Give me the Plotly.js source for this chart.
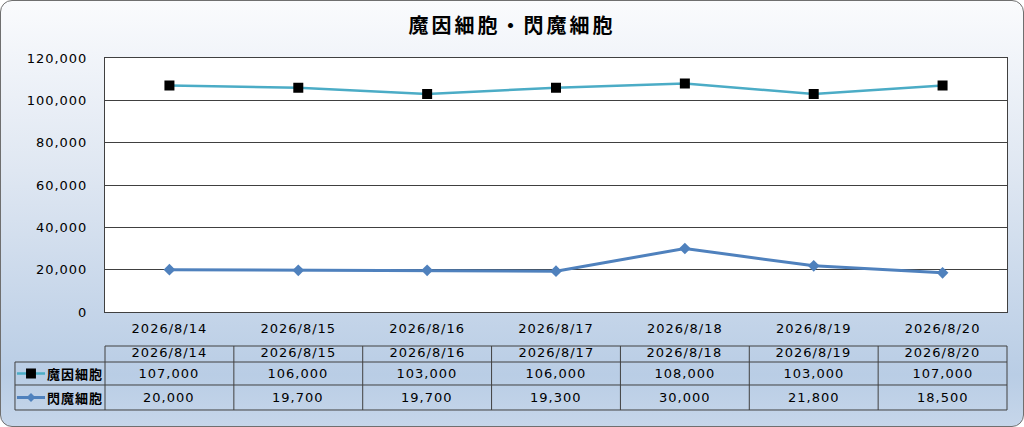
<!DOCTYPE html>
<html>
<head>
<meta charset="utf-8">
<script src="https://cdn.plot.ly/plotly-3.0.1.min.js"></script>
<style>
  html, body { margin: 0; padding: 0; }
  #frame {
    position: relative;
    width: 1024px; height: 427px;
    box-sizing: border-box;
    border: 1.5px solid #6f6f6f;
    border-radius: 12px;
    background: linear-gradient(to bottom, #fafbfd 0%, #dfe7f2 40%, #b9cde5 88%, #c6d6ea 100%);
    overflow: hidden;
  }
  #chart { position: absolute; left: -1.5px; top: -1.5px; width: 1024px; height: 427px; }
  #chart text { letter-spacing: 1px; }
  #chart .gtitle { letter-spacing: 3px; }
</style>
</head>
<body>
<div id="frame"><div id="chart"></div></div>
<script>
// chart data
var dates = ['2026/8/14', '2026/8/15', '2026/8/16', '2026/8/17', '2026/8/18', '2026/8/19', '2026/8/20'];
var seriesNames = ['魔因細胞', '閃魔細胞'];
var maInValues = [107000, 106000, 103000, 106000, 108000, 103000, 107000];
var senMaValues = [20000, 19700, 19700, 19300, 30000, 21800, 18500];
var yTicks = [0, 20000, 40000, 60000, 80000, 100000, 120000];

var font = '"DejaVu Sans", "Noto Sans CJK JP", sans-serif';
var cjkFont = '"Noto Sans CJK JP", sans-serif';
var fmt = function (v) { return v === 0 ? '0' : v.toLocaleString('en-US'); };

var traces = [
  { x: dates, y: maInValues, name: seriesNames[0], type: 'scatter', mode: 'lines+markers',
    line: { color: '#4bacc6', width: 2.5 },
    marker: { symbol: 'square', size: 10, color: '#000000' } },
  { x: dates, y: senMaValues, name: seriesNames[1], type: 'scatter', mode: 'lines+markers',
    line: { color: '#4f81bd', width: 3 },
    marker: { symbol: 'diamond', size: 9, color: '#4f81bd' } }
];

// data table under the plot (paper coords: 0..1 across the plot area)
var rowY = [-0.1339, -0.1969, -0.2874, -0.3858]; // header top, header bottom, row1 bottom, row2 bottom
var leftX = -0.0998;
var lineStyle = { color: '#404040', width: 1 };
var shapes = [];
var annotations = [];

// horizontal lines
shapes.push({ type: 'line', xref: 'paper', yref: 'paper', x0: 0, x1: 1, y0: rowY[0], y1: rowY[0], line: lineStyle });
for (var r = 1; r < rowY.length; r++) {
  shapes.push({ type: 'line', xref: 'paper', yref: 'paper', x0: leftX, x1: 1, y0: rowY[r], y1: rowY[r], line: lineStyle });
}
// vertical lines
shapes.push({ type: 'line', xref: 'paper', yref: 'paper', x0: leftX, x1: leftX, y0: rowY[1], y1: rowY[3], line: lineStyle });
for (var c = 0; c <= dates.length; c++) {
  var xc = c / dates.length;
  shapes.push({ type: 'line', xref: 'paper', yref: 'paper', x0: xc, x1: xc, y0: rowY[0], y1: rowY[3], line: lineStyle });
}

var cellFont = { family: font, size: 13, color: '#000' };
var headerMid = (rowY[0] + rowY[1]) / 2, row1Mid = (rowY[1] + rowY[2]) / 2, row2Mid = (rowY[2] + rowY[3]) / 2;
function cell(x, xref, y, text, f, xanchor) {
  annotations.push({ x: x, xref: xref, y: y, yref: 'paper', text: text, showarrow: false, font: f,
    xanchor: xanchor || 'center', yanchor: 'middle' });
}
dates.forEach(function (d, i) {
  cell(d, 'x', headerMid + 0.004, d, cellFont);
  cell(d, 'x', row1Mid, fmt(maInValues[i]), cellFont);
  cell(d, 'x', row2Mid, fmt(senMaValues[i]), cellFont);
});

// legend keys in the first column
var keyX0 = -0.0976, keyX1 = -0.0665, keyMid = (keyX0 + keyX1) / 2;
shapes.push({ type: 'line', xref: 'paper', yref: 'paper', x0: keyX0, x1: keyX1, y0: row1Mid, y1: row1Mid, line: { color: '#4bacc6', width: 2.5 } });
shapes.push({ type: 'rect', xref: 'paper', yref: 'paper', x0: keyMid - 0.0055, x1: keyMid + 0.0055, y0: row1Mid - 0.0197, y1: row1Mid + 0.0197,
  fillcolor: '#000', line: { width: 0 } });
shapes.push({ type: 'line', xref: 'paper', yref: 'paper', x0: keyX0, x1: keyX1, y0: row2Mid, y1: row2Mid, line: { color: '#4f81bd', width: 3 } });
shapes.push({ type: 'path', xref: 'paper', yref: 'paper',
  path: 'M' + (keyMid - 0.005) + ',' + row2Mid + ' L' + keyMid + ',' + (row2Mid + 0.018) + ' L' + (keyMid + 0.005) + ',' + row2Mid + ' L' + keyMid + ',' + (row2Mid - 0.018) + ' Z',
  fillcolor: '#4f81bd', line: { width: 0 } });
var labelFont = { family: cjkFont, size: 13, color: '#000', weight: 'bold' };
cell(-0.0643, 'paper', row1Mid, seriesNames[0], labelFont, 'left');
cell(-0.0643, 'paper', row2Mid, seriesNames[1], labelFont, 'left');

var layout = {
  width: 1024,
  height: 427,
  margin: { t: 58, b: 115, l: 105, r: 17 },
  paper_bgcolor: 'rgba(0,0,0,0)',
  plot_bgcolor: '#ffffff',
  showlegend: false,
  font: { family: font, size: 13, color: '#000' },
  title: { text: seriesNames.join('・'), x: 0.5, xref: 'container', xanchor: 'center', y: 0.94, yref: 'container', yanchor: 'middle',
    font: { family: cjkFont, size: 20, color: '#000', weight: 'bold' } },
  xaxis: {
    type: 'category',
    range: [-0.5, 6.5],
    showgrid: false,
    showline: true, mirror: true, linecolor: '#404040', linewidth: 1,
    ticks: '', ticklabelstandoff: 4,
    tickfont: { family: font, size: 13, color: '#000' },
    fixedrange: true
  },
  yaxis: {
    range: [0, 120000],
    tickvals: yTicks,
    ticktext: yTicks.map(fmt),
    showgrid: true, gridcolor: '#404040', gridwidth: 1,
    showline: true, mirror: true, linecolor: '#404040', linewidth: 1,
    zeroline: false,
    ticks: '', ticklabelstandoff: 14,
    tickfont: { family: font, size: 13, color: '#000' },
    fixedrange: true
  },
  shapes: shapes,
  annotations: annotations
};

Plotly.newPlot('chart', traces, layout, { displayModeBar: false, staticPlot: true });
</script>
</body>
</html>
